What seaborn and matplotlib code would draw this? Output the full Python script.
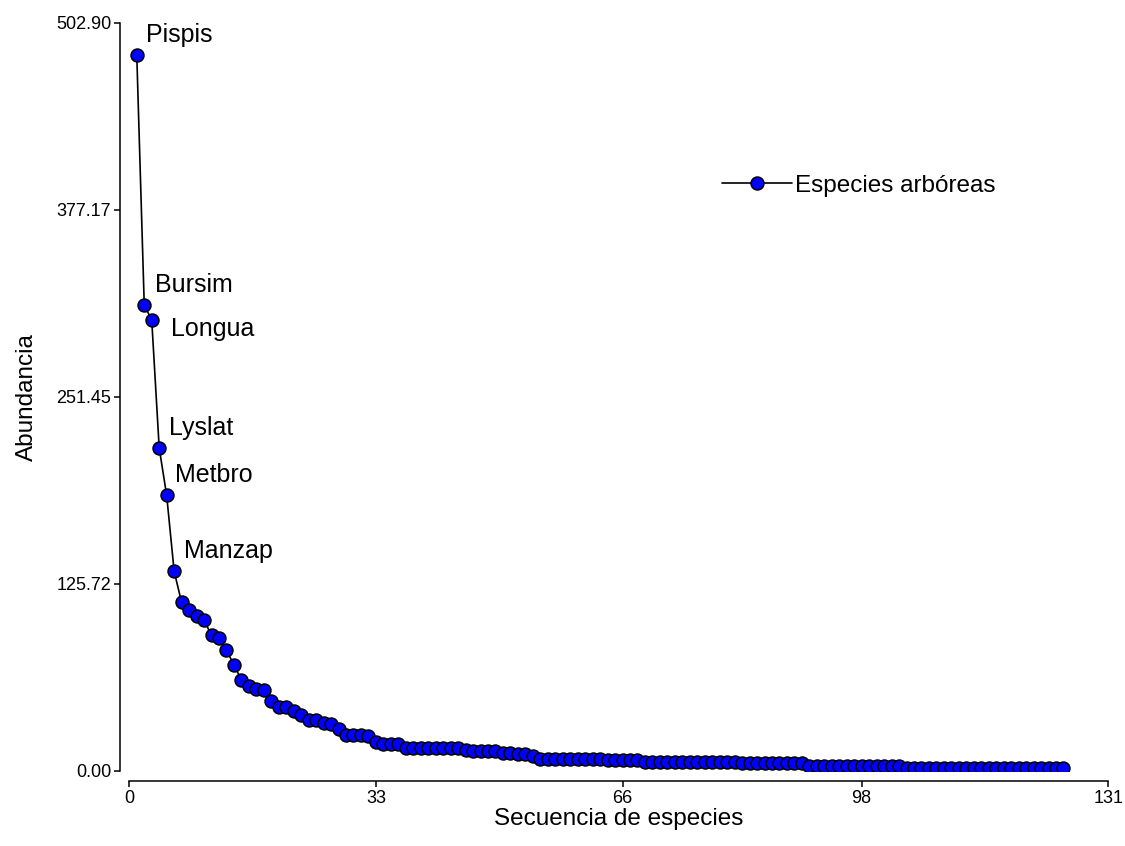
import matplotlib
matplotlib.use("Agg")
import matplotlib.pyplot as plt
import seaborn as sns
import pandas as pd

# Rank-abundance data for tree species
abundance = [
    481, 313, 303, 217, 185, 134, 113, 108, 104, 101,
    91, 89, 81, 71, 61, 57, 55, 54, 47, 43,
    43, 40, 37, 34, 34, 32, 31, 28, 24, 24,
    24, 23, 19, 18, 18, 18, 15, 15, 15, 15,
    15, 15, 15, 15, 14, 13, 13, 13, 13, 12,
    12, 11, 11, 10, 8, 8, 8, 8, 8, 8,
    8, 8, 8, 7, 7, 7, 7, 7, 6, 6,
    6, 6, 6, 6, 6, 6, 6, 6, 6, 6,
    6, 5, 5, 5, 5, 5, 5, 5, 5, 5,
    3, 3, 3, 3, 3, 3, 3, 3, 3, 3,
    3, 3, 3, 2, 2, 2, 2, 2, 2, 2,
    2, 2, 2, 2, 2, 2, 2, 2, 2, 2,
    2, 2, 2, 2, 2,
]
rank = list(range(1, len(abundance) + 1))

labelled_species = ["Pispis", "Bursim", "Longua", "Lyslat", "Metbro", "Manzap"]
label_offsets_px = [(9, 20), (11, 20), (19, -9), (10, 20), (8, 20), (10, 20)]

x_ticks = [0, 33, 66, 98, 131]
y_ticks = [0.00, 125.72, 251.45, 377.17, 502.90]
y_tick_labels = ["0.00", "125.72", "251.45", "377.17", "502.90"]

series_name = "Especies arbóreas"

df = pd.DataFrame({"rank": rank, "abundance": abundance})

sns.set_style("ticks")
plt.rcParams["font.family"] = ["Liberation Sans", "DejaVu Sans"]
plt.rcParams["text.color"] = "black"
plt.rcParams["axes.labelcolor"] = "black"

W, H = 1125, 846
fig = plt.figure(figsize=(W / 100, H / 100), dpi=100)
ax = fig.add_axes([129.3 / W, 1 - 770.5 / H, (1108.3 - 129.3) / W, (770.5 - 22.7) / H])

sns.lineplot(
    data=df, x="rank", y="abundance", ax=ax,
    color="black", linewidth=1.2,
    marker="o", markersize=9.3, markerfacecolor="#0000FF",
    markeredgecolor="black", markeredgewidth=1.1,
    label=series_name,
)

px = 0.72  # points per pixel at 100 dpi
for i, name in enumerate(labelled_species):
    dx, dy = label_offsets_px[i]
    ax.annotate(name, (rank[i], abundance[i]), xytext=(dx * px, dy * px),
                textcoords="offset points", ha="left", va="center",
                fontsize=18, color="black")

ax.set_xlim(0, 131)
ax.set_ylim(0, 502.90)
ax.set_xticks(x_ticks)
ax.set_xticklabels([str(t) for t in x_ticks])
ax.set_yticks(y_ticks)
ax.set_yticklabels(y_tick_labels)

for side in ("top", "right"):
    ax.spines[side].set_visible(False)
ax.spines["left"].set_position(("outward", 9 * px))
ax.spines["bottom"].set_position(("outward", 10 * px))
for side in ("left", "bottom"):
    ax.spines[side].set_linewidth(1.1)
    ax.spines[side].set_color("black")
ax.tick_params(axis="both", direction="out", length=4.5, width=1.1,
               labelsize=13, colors="black", pad=2)

ax.set_xlabel("Secuencia de especies", fontsize=17.5, labelpad=1)
ax.set_ylabel("Abundancia", fontsize=17.5, labelpad=13)

leg = ax.legend(loc="center left", bbox_to_anchor=(722 / W, 1 - 186 / H),
                bbox_transform=fig.transFigure, frameon=False,
                fontsize=17.5, handlelength=2.9, handletextpad=0.1,
                borderpad=0, borderaxespad=0)
for t in leg.get_texts():
    t.set_color("black")

fig.savefig("out.png", dpi=100, facecolor="white")
